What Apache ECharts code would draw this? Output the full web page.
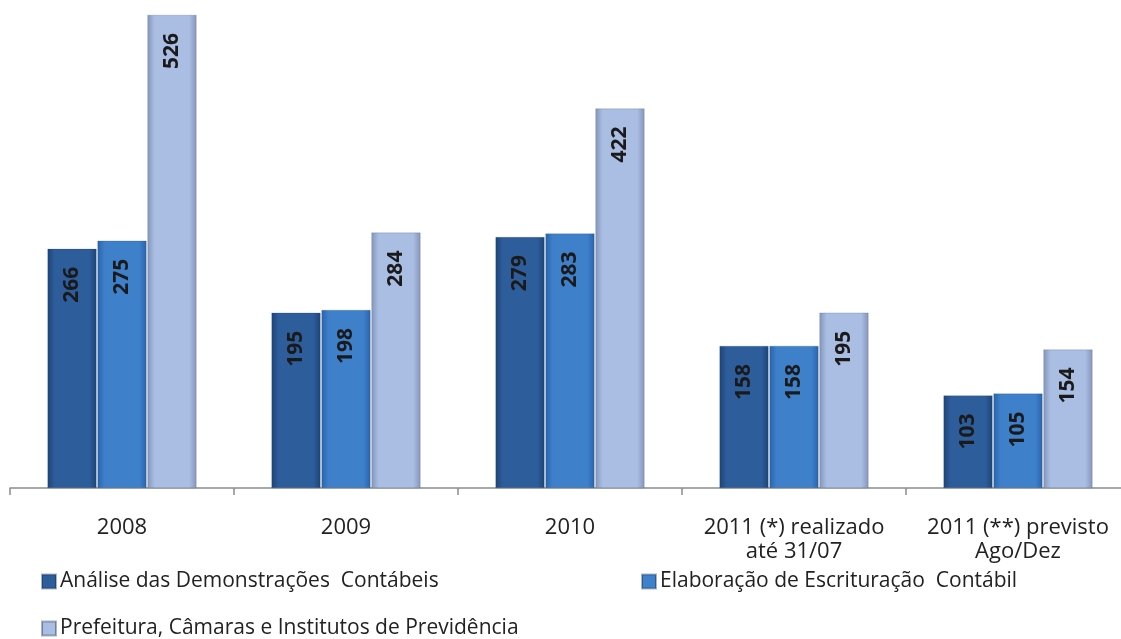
<!DOCTYPE html>
<html><head><meta charset="utf-8">
<script src="https://cdn.jsdelivr.net/npm/echarts@6/dist/echarts.min.js"></script>
<style>html,body{margin:0;padding:0;background:#fff}#c{width:1121px;height:639px}</style>
</head><body><div id="c"></div>
<script>
const categories = ['2008','2009','2010','2011 (*) realizado\naté 31/07','2011 (**) previsto\nAgo/Dez'];
const seriesNames = ['Análise das Demonstrações  Contábeis','Elaboração de Escrituração  Contábil','Prefeitura, Câmaras e Institutos de Previdência'];
const analise = [266,195,279,158,103];
const elaboracao = [275,198,283,158,105];
const prefeitura = [526,284,422,195,154];

function grad(edge, mid){
  return new echarts.graphic.LinearGradient(0,0,1,0,[
    {offset:0,color:edge},{offset:0.15,color:mid},{offset:0.85,color:mid},{offset:1,color:edge}]);
}
const colors = [grad('#1d4677','#2d5d9b'), grad('#2a64ab','#3f80cb'), grad('#8496bd','#aabde2')];
const legendColors = ['#2c5a96','#3f7dc4','#a7b9dc'];
const font = "'Open Sans', 'Liberation Sans', sans-serif";

function mk(i, data){
  return {name: seriesNames[i], type:'bar', data, barWidth:49, barGap:'2%',
    itemStyle:{color:colors[i], borderColor:'rgba(20,40,80,0.35)', borderWidth:0.5},
    label:{show:true, position:'insideTop', rotate:90, align:'right', verticalAlign:'middle', distance:18,
      fontFamily:font, fontWeight:'bold', fontSize:21, color:'#1a1a1a'}};
}
const chart = echarts.init(document.getElementById('c'));
const legendBase = {orient:'horizontal', itemWidth:14, itemHeight:14, icon:'rect', itemGap:6,
  textStyle:{fontFamily:font, fontSize:21, color:'#222', padding:[0,0,0,-1]}};
chart.setOption({
  animation:false,
  color: legendColors,
  grid:{left:10, width:1120, top:15, bottom:151, outerBoundsMode:'none', containLabel:false},
  xAxis:{type:'category', data:categories,
    axisLine:{lineStyle:{color:'#8c8c8c', width:1.5}},
    axisTick:{show:true, interval:0, length:7, lineStyle:{color:'#8c8c8c', width:1.5}},
    axisLabel:{interval:0, hideOverlap:false, fontFamily:font, fontSize:22, color:'#222', margin:28, lineHeight:24, verticalAlign:'top'}},
  yAxis:{type:'value', min:0, max:526, show:false, splitLine:{show:false}},
  legend:[
    Object.assign({data:[seriesNames[0]], left:36, top:566}, legendBase),
    Object.assign({data:[seriesNames[1]], left:636, top:566}, legendBase),
    Object.assign({data:[seriesNames[2]], left:36, top:613}, legendBase)
  ],
  series:[mk(0,analise), mk(1,elaboracao), mk(2,prefeitura)]
});
</script></body></html>
